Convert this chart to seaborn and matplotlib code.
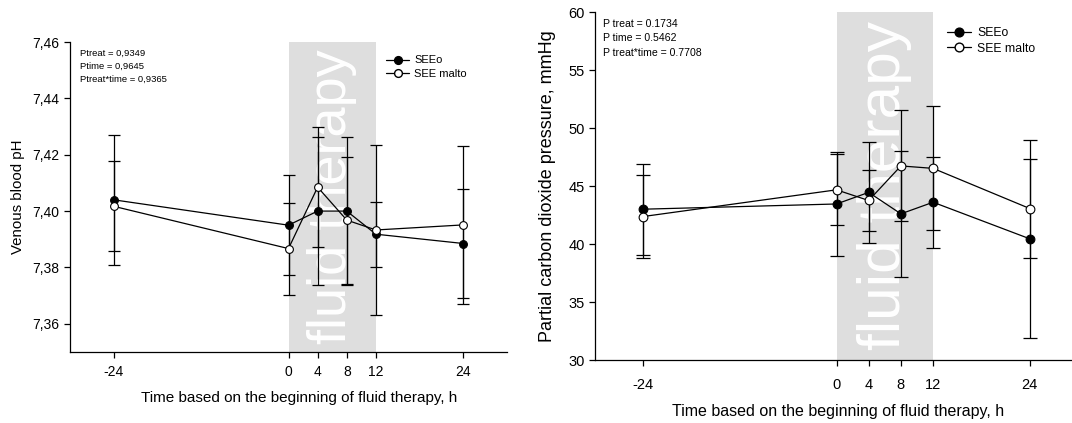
import numpy as np
import pandas as pd
import matplotlib
matplotlib.use("Agg")
import matplotlib.pyplot as plt
import seaborn as sns
from matplotlib.lines import Line2D
from matplotlib.ticker import FuncFormatter

# ---- data ----
time_h = [-24, 0, 4, 8, 12, 24]
series_names = ["SEEo", "SEE malto"]

ph_seeo = [7.4040, 7.3950, 7.4000, 7.4000, 7.3918, 7.3885]
ph_seeo_err = [0.0230, 0.0177, 0.0262, 0.0262, 0.0116, 0.0193]
ph_malto = [7.4017, 7.3867, 7.4085, 7.3968, 7.3933, 7.3951]
ph_malto_err = [0.0160, 0.0163, 0.0212, 0.0225, 0.0301, 0.0279]

pco2_seeo = [43.00, 43.45, 44.45, 42.60, 43.60, 40.45]
pco2_seeo_err = [3.93, 4.50, 4.33, 5.45, 3.92, 8.55]
pco2_malto = [42.37, 44.67, 43.75, 46.73, 46.52, 43.06]
pco2_malto_err = [3.62, 3.05, 2.60, 4.78, 5.34, 4.31]

ph_yticks = [7.36, 7.38, 7.40, 7.42, 7.44, 7.46]
pco2_yticks = [30, 35, 40, 45, 50, 55, 60]

ph_ptext = ["Ptreat = 0,9349", "Ptime = 0,9645", "Ptreat*time = 0,9365"]
pco2_ptext = ["P treat = 0.1734", "P time = 0.5462", "P treat*time = 0.7708"]

xlabel = "Time based on the beginning of fluid therapy, h"

sns.set_style("ticks")
plt.rcParams["font.family"] = ["Liberation Sans", "DejaVu Sans"]
plt.rcParams["text.color"] = "black"
plt.rcParams["axes.labelcolor"] = "black"

fig = plt.figure(figsize=(10.72, 4.23), dpi=100)
W, H = 1072, 423

def px_axes(x0, x1, ytop, ybot):
    return fig.add_axes([x0 / W, 1 - ybot / H, (x1 - x0) / W, (ybot - ytop) / H])

ax1 = px_axes(70, 507, 42, 352)
ax2 = px_axes(595, 1078, 12, 360)


def draw_panel(ax, seeo, seeo_err, malto, malto_err, ylim, yticks, fmt,
               ms, capsize, band_fs, tick_fs, xpad, leg_fs, leg_xy, ptext, pt_fs, pt_xy, pt_dy):
    ax.axvspan(0, 12, color="#dedede", lw=0, zorder=0)
    ax.text(6, (ylim[0] + ylim[1]) / 2, "fluid therapy", rotation=90,
            ha="center", va="center", color="white", fontsize=band_fs, zorder=0.5)
    df = pd.DataFrame({
        "time": time_h * 2,
        "value": list(seeo) + list(malto),
        "err": list(seeo_err) + list(malto_err),
        "group": [series_names[0]] * len(time_h) + [series_names[1]] * len(time_h),
    })
    for name, face, z in [(series_names[0], "black", 4), (series_names[1], "white", 5)]:
        d = df[df.group == name]
        ax.errorbar(d.time, d.value, yerr=d.err, fmt="none", ecolor="black",
                    elinewidth=0.9, capsize=capsize, capthick=0.9, zorder=3)
        n0 = len(ax.lines)
        sns.lineplot(data=d, x="time", y="value", ax=ax, color="black", lw=0.9,
                     marker="o", markersize=ms, markerfacecolor=face,
                     markeredgecolor="black", markeredgewidth=0.8,
                     legend=False, errorbar=None, sort=False)
        for ln in ax.lines[n0:]:
            ln.set_zorder(z)
    ax.set_xlim(-30, 30)
    ax.set_ylim(*ylim)
    ax.set_xticks(time_h)
    ax.set_xticklabels([str(t) for t in time_h])
    ax.set_yticks(yticks)
    ax.yaxis.set_major_formatter(FuncFormatter(fmt))
    ax.tick_params(direction="out", length=4, width=0.9, labelsize=tick_fs, colors="black")
    ax.tick_params(axis="x", pad=xpad)
    for s in ["top", "right"]:
        ax.spines[s].set_visible(False)
    for s in ["left", "bottom"]:
        ax.spines[s].set_linewidth(0.9)
        ax.spines[s].set_color("black")
    handles = [
        Line2D([], [], color="black", lw=0.9, marker="o", markersize=ms,
               markerfacecolor="black", markeredgecolor="black"),
        Line2D([], [], color="black", lw=0.9, marker="o", markersize=ms,
               markerfacecolor="white", markeredgecolor="black"),
    ]
    ax.legend(handles, series_names, loc="upper left", bbox_to_anchor=leg_xy,
              bbox_transform=fig.transFigure, frameon=False, fontsize=leg_fs,
              handlelength=2.0, handletextpad=0.5, labelspacing=0.3, borderaxespad=0)
    for i, t in enumerate(ptext):
        fig.text(pt_xy[0] / W, 1 - (pt_xy[1] + i * pt_dy) / H, t, fontsize=pt_fs,
                 ha="left", va="center", color="black")


draw_panel(ax1, ph_seeo, ph_seeo_err, ph_malto, ph_malto_err, (7.35, 7.46), ph_yticks,
           lambda v, p: f"{v:.2f}".replace(".", ","),
           ms=5.6, capsize=4.3, band_fs=39, tick_fs=10, xpad=5, leg_fs=8,
           leg_xy=(382 / W, 1 - 51 / H), ptext=ph_ptext, pt_fs=6.8,
           pt_xy=(80, 53), pt_dy=13)
draw_panel(ax2, pco2_seeo, pco2_seeo_err, pco2_malto, pco2_malto_err, (30, 60), pco2_yticks,
           lambda v, p: f"{v:.0f}",
           ms=6.3, capsize=4.8, band_fs=43.5, tick_fs=10.5, xpad=9, leg_fs=8.8,
           leg_xy=(942 / W, 1 - 22 / H), ptext=pco2_ptext, pt_fs=7.6,
           pt_xy=(603, 24), pt_dy=14.3)

ax1.set_xlabel(xlabel, fontsize=11)
ax1.xaxis.set_label_coords((299 - 70) / (507 - 70), -(391 - 352) / (352 - 42))
ax1.set_ylabel("Venous blood pH", fontsize=10.8)
ax1.yaxis.set_label_coords(-(70 - 25) / (507 - 70), 0.5)

ax2.set_xlabel(xlabel, fontsize=11.5)
ax2.xaxis.set_label_coords((838 - 595) / (1078 - 595), -(404 - 360) / (360 - 12))
ax2.set_ylabel("Partial carbon dioxide pressure, mmHg", fontsize=13)
ax2.yaxis.set_label_coords(-(595 - 556) / (1078 - 595), 0.5)

fig.savefig("out.png", dpi=100, facecolor="white")
